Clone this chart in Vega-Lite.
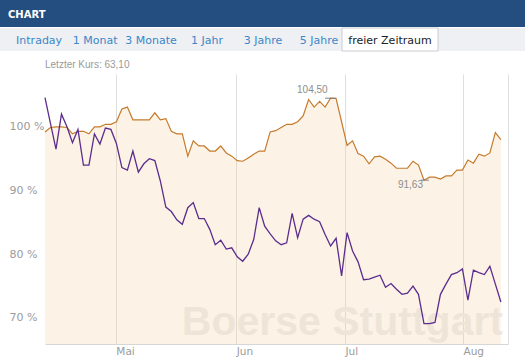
{
  "$schema": "https://vega.github.io/schema/vega-lite/v6.json",
  "padding": 0,
  "background": "white",
  "bounds": "full",
  "spacing": 8,
  "config": {"view": {"stroke": null}, "font": "DejaVu Sans"},
  "vconcat": [
    {
      "bounds": "full",
      "spacing": 0,
      "vconcat": [
        {
          "width": 525,
          "height": 27,
          "view": {"fill": "#234e7f", "stroke": null},
          "data": {"values": [{"label": "CHART"}]},
          "mark": {"type": "text", "align": "left", "baseline": "middle", "dx": 8, "dy": 1, "font": "DejaVu Sans", "fontWeight": "bold", "fontSize": 10, "color": "#ffffff"},
          "encoding": {
            "text": {"field": "label"},
            "x": {"datum": 0, "type": "quantitative", "scale": {"domain": [0, 1]}, "axis": null}
          }
        },
        {
          "width": 525,
          "height": 23,
          "view": {"fill": "#eef0f3", "stroke": null},
          "data": {"values": [
            {"tab": "Intraday"}, {"tab": "1 Monat"}, {"tab": "3 Monate"}, {"tab": "1 Jahr"},
            {"tab": "3 Jahre"}, {"tab": "5 Jahre"}, {"tab": "freier Zeitraum"}
          ]},
          "resolve": {"scale": {"x": "independent"}},
          "layer": [
            {
              "transform": [{"filter": "datum.tab !== 'freier Zeitraum'"}],
              "mark": {"type": "text", "font": "DejaVu Sans", "fontSize": 11, "baseline": "middle", "dy": 1, "color": "#3b87c8"},
              "encoding": {
                "x": {"field": "tab", "type": "nominal", "sort": null,
                  "scale": {"type": "band", "domain": ["Intraday", "1 Monat", "3 Monate", "1 Jahr", "3 Jahre", "5 Jahre"], "range": [11.1, 347.1], "paddingInner": 0, "paddingOuter": 0},
                  "axis": null},
                "text": {"field": "tab"}
              }
            },
            {
              "transform": [{"filter": "datum.tab === 'freier Zeitraum'"}],
              "encoding": {
                "x": {"field": "tab", "type": "nominal",
                  "scale": {"type": "band", "domain": ["freier Zeitraum"], "range": [342, 438], "paddingInner": 0, "paddingOuter": 0},
                  "axis": null}
              },
              "layer": [
                {"mark": {"type": "bar", "fill": "#ffffff", "stroke": "#c9ccd0", "strokeWidth": 1}},
                {
                  "mark": {"type": "text", "font": "DejaVu Sans", "fontSize": 11, "baseline": "middle", "dy": 1, "color": "#222222"},
                  "encoding": {"text": {"field": "tab"}}
                }
              ]
            }
          ]
        }
      ]
    },
    {
      "width": 525,
      "height": 270,
      "title": {"text": "Letzter Kurs: 63,10", "anchor": "start", "dx": 45, "offset": 4, "font": "Liberation Sans", "fontSize": 10, "fontWeight": "normal", "color": "#9a9a9a"},
      "view": {"stroke": null},
      "data": {"values": [
        {"t":0,"ref":99.2,"stock":104.6},{"t":1,"ref":99.9,"stock":100.5},{"t":2,"ref":100.0,"stock":96.5},{"t":3,"ref":100.0,"stock":102.0},
        {"t":4,"ref":99.9,"stock":100.0},{"t":5,"ref":98.9,"stock":97.5},{"t":6,"ref":99.3,"stock":99.6},{"t":7,"ref":99.3,"stock":94.0},
        {"t":8,"ref":98.9,"stock":94.0},{"t":9,"ref":100.0,"stock":98.9},{"t":10,"ref":100.0,"stock":97.3},{"t":11,"ref":100.4,"stock":99.8},
        {"t":12,"ref":100.4,"stock":99.6},{"t":13,"ref":100.8,"stock":97.4},{"t":14,"ref":102.8,"stock":93.6},{"t":15,"ref":103.1,"stock":93.2},
        {"t":16,"ref":101.1,"stock":96.2},{"t":17,"ref":101.1,"stock":92.9},{"t":18,"ref":101.1,"stock":94.2},{"t":19,"ref":101.1,"stock":95.0},
        {"t":20,"ref":102.2,"stock":94.7},{"t":21,"ref":101.1,"stock":91.5},{"t":22,"ref":101.3,"stock":87.4},{"t":23,"ref":99.3,"stock":86.7},
        {"t":24,"ref":98.9,"stock":85.4},{"t":25,"ref":98.9,"stock":84.7},{"t":26,"ref":95.4,"stock":87.3},{"t":27,"ref":97.8,"stock":88.1},
        {"t":28,"ref":97.0,"stock":85.6},{"t":29,"ref":97.0,"stock":85.6},{"t":30,"ref":96.2,"stock":83.9},{"t":31,"ref":96.2,"stock":81.5},
        {"t":32,"ref":97.0,"stock":82.2},{"t":33,"ref":95.9,"stock":80.8},{"t":34,"ref":95.4,"stock":81.0},{"t":35,"ref":94.7,"stock":79.6},
        {"t":36,"ref":94.6,"stock":78.9},{"t":37,"ref":95.1,"stock":80.0},{"t":38,"ref":95.7,"stock":82.3},{"t":39,"ref":96.2,"stock":87.3},
        {"t":40,"ref":96.2,"stock":84.4},{"t":41,"ref":99.2,"stock":83.2},{"t":42,"ref":99.4,"stock":82.1},{"t":43,"ref":99.9,"stock":81.5},
        {"t":44,"ref":100.4,"stock":81.8},{"t":45,"ref":100.4,"stock":86.4},{"t":46,"ref":100.8,"stock":82.6},{"t":47,"ref":101.7,"stock":85.5},
        {"t":48,"ref":104.3,"stock":86.1},{"t":49,"ref":103.1,"stock":85.5},{"t":50,"ref":104.0,"stock":85.1},{"t":51,"ref":103.1,"stock":83.1},
        {"t":52,"ref":104.5,"stock":81.3},{"t":53,"ref":104.45,"stock":82.5},{"t":54,"ref":100.8,"stock":76.6},{"t":55,"ref":97.1,"stock":83.4},
        {"t":56,"ref":97.8,"stock":80.5},{"t":57,"ref":95.8,"stock":78.8},{"t":58,"ref":95.4,"stock":76.0},{"t":59,"ref":94.2,"stock":76.1},
        {"t":60,"ref":95.3,"stock":76.4},{"t":61,"ref":95.4,"stock":76.7},{"t":62,"ref":94.9,"stock":74.8},{"t":63,"ref":94.3,"stock":75.4},
        {"t":64,"ref":93.5,"stock":74.5},{"t":65,"ref":93.5,"stock":73.7},{"t":66,"ref":93.5,"stock":73.9},{"t":67,"ref":94.6,"stock":75.0},
        {"t":68,"ref":94.0,"stock":73.7},{"t":69,"ref":91.63,"stock":69.1},{"t":70,"ref":92.1,"stock":69.1},{"t":71,"ref":92.1,"stock":69.3},
        {"t":72,"ref":91.8,"stock":73.7},{"t":73,"ref":92.3,"stock":75.3},{"t":74,"ref":92.3,"stock":76.8},{"t":75,"ref":93.2,"stock":77.1},
        {"t":76,"ref":93.2,"stock":77.7},{"t":77,"ref":94.8,"stock":72.8},{"t":78,"ref":94.3,"stock":77.5},{"t":79,"ref":95.7,"stock":77.1},
        {"t":80,"ref":95.4,"stock":76.8},{"t":81,"ref":95.9,"stock":78.1},{"t":82,"ref":99.1,"stock":75.3},{"t":83,"ref":98.0,"stock":72.5}
      ]},
      "encoding": {
        "x": {"field": "t", "type": "quantitative", "title": null,
          "scale": {"domain": [0, 84.3], "range": [45, 508], "nice": false, "zero": false},
          "axis": {"values": [12.9, 34.8, 54.6, 76.1, 84.3],
            "labelExpr": "datum.value < 20 ? 'Mai' : datum.value < 40 ? 'Jun' : datum.value < 60 ? 'Jul' : datum.value < 80 ? 'Aug' : ''",
            "grid": true, "gridColor": "#dedede", "ticks": false, "domain": true, "domainColor": "#d6d6d6",
            "labelAlign": "left", "labelBaseline": "top", "labelPadding": 2, "labelFlush": false,
            "labelFont": "DejaVu Sans", "labelFontSize": 10.5, "labelColor": "#9b9b9b"}}
      },
      "layer": [
        {
          "data": {"values": [{"t": 83.4, "v": 67.35, "label": "Boerse Stuttgart"}]},
          "mark": {"type": "text", "align": "right", "baseline": "alphabetic", "font": "Liberation Sans", "fontWeight": "bold", "fontSize": 41, "color": "#ededed"},
          "encoding": {
            "x": {"field": "t", "type": "quantitative"},
            "y": {"field": "v", "type": "quantitative", "title": null},
            "text": {"field": "label", "type": "nominal"}
          }
        },
        {
          "data": {"values": [{"v": 70}, {"v": 80}, {"v": 90}, {"v": 100}]},
          "mark": {"type": "rule", "color": "#dedede", "strokeWidth": 1},
          "encoding": {
            "x": {"datum": 0, "type": "quantitative"},
            "x2": {"datum": 84.3},
            "y": {"field": "v", "type": "quantitative", "title": null}
          }
        },
        {
          "mark": {"type": "area", "fill": "#f3cf9c", "fillOpacity": 0.25},
          "encoding": {
            "y": {"field": "ref", "type": "quantitative", "title": null,
              "scale": {"domain": [65.9, 108.3], "nice": false, "zero": false},
              "axis": {"values": [70, 80, 90, 100], "labelExpr": "datum.value + ' %'", "domain": false, "ticks": false, "grid": false,
                "labelAlign": "left", "labelBaseline": "middle", "labelPadding": -9,
                "labelFont": "DejaVu Sans", "labelFontSize": 11, "labelColor": "#9b9b9b"}},
            "y2": {"datum": 65.9}
          }
        },
        {
          "mark": {"type": "line", "color": "#c67b2c", "strokeWidth": 1.2},
          "encoding": {"y": {"field": "ref", "type": "quantitative", "title": null}}
        },
        {
          "mark": {"type": "line", "color": "#5b2d8e", "strokeWidth": 1.3},
          "encoding": {"y": {"field": "stock", "type": "quantitative", "title": null}}
        },
        {
          "data": {"values": [{"a": 51, "b": 53, "v": 104.5}, {"a": 68.4, "b": 69.9, "v": 91.63}]},
          "mark": {"type": "rule", "color": "#808080", "strokeWidth": 1},
          "encoding": {
            "x": {"field": "a", "type": "quantitative"},
            "x2": {"field": "b"},
            "y": {"field": "v", "type": "quantitative", "title": null}
          }
        },
        {
          "data": {"values": [{"t": 52, "v": 104.5, "label": "104,50"}]},
          "mark": {"type": "text", "align": "right", "baseline": "bottom", "dx": -3, "dy": -3, "font": "Liberation Sans", "fontSize": 10, "color": "#8c8c8c"},
          "encoding": {
            "x": {"field": "t", "type": "quantitative"},
            "y": {"field": "v", "type": "quantitative", "title": null},
            "text": {"field": "label"}
          }
        },
        {
          "data": {"values": [{"t": 69, "v": 91.63, "label": "91,63"}]},
          "mark": {"type": "text", "align": "right", "baseline": "top", "dx": -1, "dy": 0, "font": "Liberation Sans", "fontSize": 10, "color": "#8c8c8c"},
          "encoding": {
            "x": {"field": "t", "type": "quantitative"},
            "y": {"field": "v", "type": "quantitative", "title": null},
            "text": {"field": "label"}
          }
        }
      ]
    }
  ]
}
